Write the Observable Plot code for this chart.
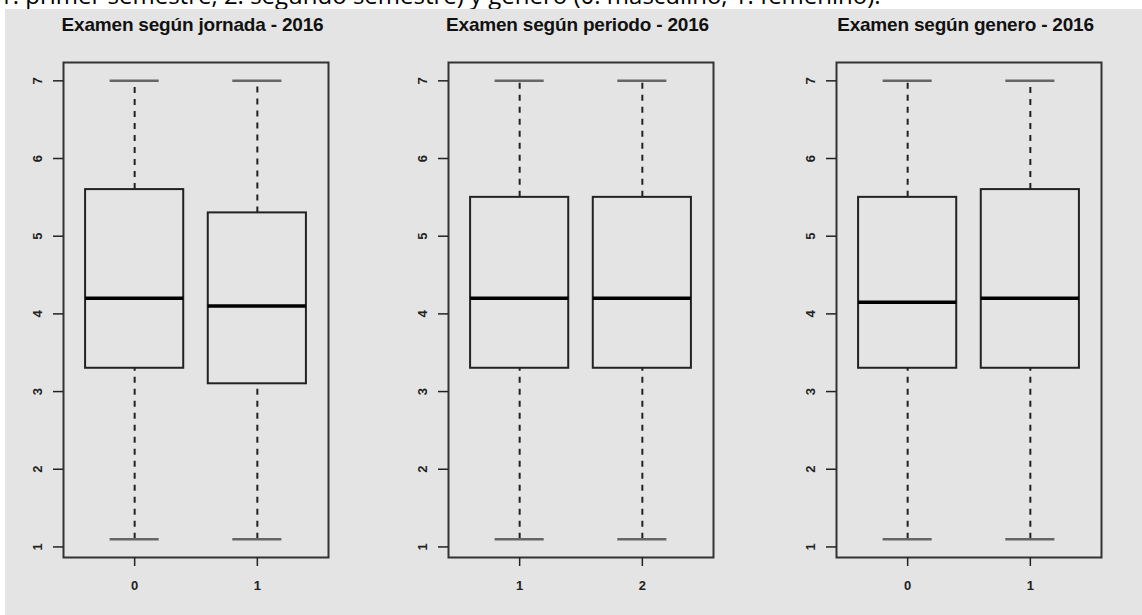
<!DOCTYPE html>
<html><head><meta charset="utf-8">
<script src="https://cdn.jsdelivr.net/npm/d3@7"></script>
<script src="https://cdn.jsdelivr.net/npm/@observablehq/plot@0.6"></script>
<style>
body{margin:0;background:#fff;}
#page{position:relative;width:1142px;height:615px;overflow:hidden;background:#fff;}
#note{position:absolute;left:-1px;top:-17px;font:24px/24px "Open Sans",sans-serif;white-space:nowrap;color:#000;}
#bg{position:absolute;left:5px;top:9px;right:0;bottom:0;background:#e4e4e4;}
.title{position:absolute;top:14px;font:bold 19px "Liberation Sans",Arial,sans-serif;color:#111;transform:translateX(-50%);white-space:nowrap;letter-spacing:-0.2px;}
.panel{position:absolute;top:40px;}
</style>
</head><body>
<div id="page">
  <div id="note">1: primer semestre, 2: segundo semestre) y genero (0: masculino, 1: femenino).</div>
  <div id="bg"></div>
</div>
<script>
// ---- data ----
const titles = ["Examen según jornada - 2016", "Examen según periodo - 2016", "Examen según genero - 2016"];
const yTicks = [1, 2, 3, 4, 5, 6, 7];

const jornadaGroups = ["0", "1"];
const jornadaMin = [1.1, 1.1];
const jornadaQ1 = [3.3, 3.1];
const jornadaMed = [4.2, 4.1];
const jornadaQ3 = [5.6, 5.3];
const jornadaMax = [7, 7];

const periodoGroups = ["1", "2"];
const periodoMin = [1.1, 1.1];
const periodoQ1 = [3.3, 3.3];
const periodoMed = [4.2, 4.2];
const periodoQ3 = [5.5, 5.5];
const periodoMax = [7, 7];

const generoGroups = ["0", "1"];
const generoMin = [1.1, 1.1];
const generoQ1 = [3.3, 3.3];
const generoMed = [4.15, 4.2];
const generoQ3 = [5.5, 5.6];
const generoMax = [7, 7];

// ---- drawing ----
const page = document.getElementById("page");
const boxwex = 0.8, staple = 0.4;

function panel(title, groups, lo, q1, med, q3, hi, svgLeft) {
  const data = groups.map((g, i) => ({g, pos: i + 1, lo: lo[i], q1: q1[i], med: med[i], q3: q3[i], hi: hi[i]}));
  const bx1 = d => d.pos - boxwex / 2, bx2 = d => d.pos + boxwex / 2;
  const sx1 = d => d.pos - staple / 2, sx2 = d => d.pos + staple / 2;
  const svg = Plot.plot({
    width: 380, height: 567,
    marginLeft: 60, marginRight: 55, marginTop: 22, marginBottom: 50,
    style: {background: "transparent", fontFamily: "'Liberation Sans', Arial, sans-serif", fontSize: "13px", fontWeight: "bold", color: "#222"},
    x: {domain: [0.42, 2.58]},
    y: {domain: [0.864, 7.236]},
    marks: [
      Plot.ruleX(data, {x: "pos", y1: "q3", y2: "hi", stroke: "#222", strokeWidth: 2, strokeDasharray: "6,6"}),
      Plot.ruleX(data, {x: "pos", y1: "lo", y2: "q1", stroke: "#222", strokeWidth: 2, strokeDasharray: "6,6"}),
      Plot.ruleY(data, {y: "hi", x1: sx1, x2: sx2, stroke: "#666", strokeWidth: 2.5}),
      Plot.ruleY(data, {y: "lo", x1: sx1, x2: sx2, stroke: "#666", strokeWidth: 2.5}),
      Plot.rect(data, {x1: bx1, x2: bx2, y1: "q1", y2: "q3", fill: "#e4e4e4", stroke: "#222", strokeWidth: 2}),
      Plot.ruleY(data, {y: "med", x1: bx1, x2: bx2, stroke: "#000", strokeWidth: 3.5}),
      Plot.frame({stroke: "#333", strokeWidth: 2}),
      Plot.axisY(yTicks, {tickSize: 10, tickRotate: -90, tickPadding: 12, label: null, tickFormat: d => String(d), stroke: "#222", strokeWidth: 1.5}),
      Plot.axisX(data.map(d => d.pos), {tickSize: 9, tickPadding: 14, label: null, tickFormat: d => groups[d - 1], stroke: "#222", strokeWidth: 1.5})
    ]
  });
  svg.classList.add("panel");
  svg.style.left = svgLeft + "px";
  page.appendChild(svg);
  const t = document.createElement("div");
  t.className = "title";
  t.textContent = title;
  t.style.left = (svgLeft + 60 + 265 / 2 - 3) + "px";
  page.appendChild(t);
}

panel(titles[0], jornadaGroups, jornadaMin, jornadaQ1, jornadaMed, jornadaQ3, jornadaMax, 3);
panel(titles[1], periodoGroups, periodoMin, periodoQ1, periodoMed, periodoQ3, periodoMax, 388);
panel(titles[2], generoGroups, generoMin, generoQ1, generoMed, generoQ3, generoMax, 776);
</script>
</body></html>
